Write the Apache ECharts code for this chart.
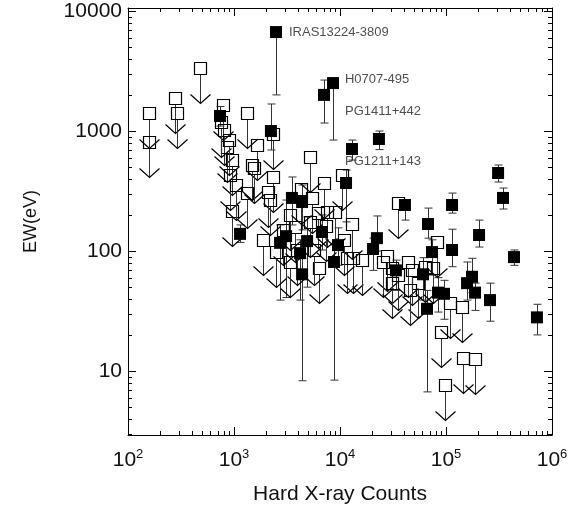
<!DOCTYPE html>
<html><head><meta charset="utf-8">
<script src="https://cdn.jsdelivr.net/npm/echarts@6/dist/echarts.min.js"></script>
<style>html,body{margin:0;padding:0;background:#fff}#c{width:575px;height:508px}</style>
</head><body><div id="c"></div>
<script>
// Detections (filled squares) with error bars
const detX  = [2490,8590,7060,738,2230,23300,12970,11400,3520,4390,41000,114000,310000,345000,67600,205000,6760,1140,3100,2720,4890,9570,22300,20500,4200,73800,114000,438000,8770,33700,60700,176000,158000,4390,188000,84100,95700,260000,66200,721000];
const detY  = [6680,2510,2000,1334,1000,858,708,369,277,256,242,242,447,277,168,136,144,139,133,117,121,112,128,104,96,98,102,89,81,69,64,61,54,64,45,45,44,39,33,28];
const detLo = [2000,841,1166,1100,695,700,573,175,165,150,181,207,376,224,128,108,102,118,41,39,50,76,100,69,39,63,74,76,8.4,47,39,45,39,8.3,32,31,27,26,6.7,20];
const detHi = [6680,2770,2660,1600,1680,1000,841,473,414,355,266,304,521,335,228,181,200,165,266,165,192,156,196,128,124,124,152,102,112,84,88,87,81,87,54,60,57,54,47,36];
// Upper limits (open squares with arrows)
const limX = [158,158,277,290,477,787,805,859,957,1327,1650,1479,1545,2335,2335,2095,5210,7060,10400,957,1327,4290,5450,12970,3370,3760,6190,7530,8970,6340,13300,16100,35200,82200,27700,43800,54500,109000,142000,89700,145000,188000,98000,2190,2900,3930,5210,7380,11600,25500,31000,35200,47800,63400,75400,754,898,1880,2490,3370,5690,10900,916,1045,31000,45700];
const limY = [1413,810,1884,1413,3350,1648,1019,736,573,1413,764,521,492,944,414,310,607,369,430,215,304,329,277,168,200,158,207,211,211,72,87,84,251,119,91,81,54,37,34,21,12.8,12.6,7.6,266,150,102,175,162,87,81,72,63,69,74,72,1189,841,124,98,81,102,124,430,355,54,47];
// Source labels
const srcNames = ['IRAS13224-3809','H0707-495','PG1411+442','PG1211+143'];
const srcLabX  = [3300,11140,11140,11140];
const srcLabY  = [6680,2710,1468,562];
// Axes
const xMajor = [100,1000,10000,100000,1000000];
const yMajor = [10,100,1000,10000];
const minorMult = [2,3,4,5,6,7,8,9];
const xMin = 100, xMax = 1000000, yMin = 2.93, yMax = 10600;

const xMinor = [], yMinor = [];
xMajor.slice(0,-1).forEach(d => minorMult.forEach(m => xMinor.push(d*m)));
[1].concat(yMajor).forEach(d => minorMult.forEach(m => { const v=d*m; if (v>yMin && v<yMax) yMinor.push(v); }));

const FONT = "'Liberation Sans', Arial, Helvetica, sans-serif";
const chart = echarts.init(document.getElementById('c'), null, {renderer:'canvas'});

const axisCommon = {
  type:'log', logBase:10,
  axisLine:{show:true, lineStyle:{color:'#000', width:1}},
  axisTick:{show:true, inside:true, length:8, lineStyle:{color:'#000', width:1}},
  splitLine:{show:false}, minorTick:{show:false}
};

chart.setOption({
  animation:false,
  backgroundColor:'#fff',
  grid:{left:128, right:23, top:8, bottom:73, containLabel:false, outerBoundsMode:'none'},
  xAxis:[
    Object.assign({}, axisCommon, {
      position:'bottom', min:xMin, max:xMax,
      name:'Hard X-ray Counts', nameLocation:'middle', nameGap:49,
      nameTextStyle:{fontFamily:FONT, fontSize:21, color:'#111'},
      axisLabel:{show:true, margin:13, color:'#000', fontFamily:FONT,
        formatter: v => '{a|10}{b|' + Math.round(Math.log10(v)) + '}',
        rich:{a:{fontSize:21, fontFamily:FONT, color:'#111', lineHeight:24},
              b:{fontSize:13, fontFamily:FONT, color:'#111', verticalAlign:'top', lineHeight:24, padding:[0,0,11,0]}}}
    }),
    Object.assign({}, axisCommon, {position:'top', min:xMin, max:xMax, axisLabel:{show:false}})
  ],
  yAxis:[
    Object.assign({}, axisCommon, {
      position:'left', min:yMin, max:yMax,
      name:'EW(eV)', nameLocation:'middle', nameGap:88, nameRotate:90,
      nameTextStyle:{fontFamily:FONT, fontSize:18, color:'#111'},
      axisLabel:{show:true, margin:6, color:'#111', fontFamily:FONT, fontSize:21,
        showMinLabel:false, showMaxLabel:false,
        formatter: v => { const r = Math.round(v); return yMajor.indexOf(r) >= 0 ? String(r) : ''; }}
    }),
    Object.assign({}, axisCommon, {position:'right', min:yMin, max:yMax, axisLabel:{show:false}})
  ],
  series:[
    { // minor ticks
      type:'custom', coordinateSystem:'cartesian2d', silent:true, clip:false,
      data: xMinor.map(v => [v, 'x']).concat(yMinor.map(v => [v, 'y'])),
      dimensions:['v','k'],
      renderItem(params, api){
        const cs = params.coordSys;
        const kind = params.dataIndex < xMinor.length ? 'x' : 'y';
        const v = api.value(0);
        const st = {stroke:'#000', lineWidth:1};
        if (kind === 'x') {
          const px = Math.round(api.coord([v, 100])[0]) + 0.5;
          return {type:'group', children:[
            {type:'line', shape:{x1:px,y1:cs.y+cs.height,x2:px,y2:cs.y+cs.height-4}, style:st},
            {type:'line', shape:{x1:px,y1:cs.y,x2:px,y2:cs.y+4}, style:st}
          ]};
        } else {
          const py = Math.round(api.coord([1000, v])[1]) + 0.5;
          return {type:'group', children:[
            {type:'line', shape:{x1:cs.x,y1:py,x2:cs.x+4,y2:py}, style:st},
            {type:'line', shape:{x1:cs.x+cs.width,y1:py,x2:cs.x+cs.width-4,y2:py}, style:st}
          ]};
        }
      }
    },
    { // error bars of detections
      type:'custom', silent:true,
      data: detX.map((x,i) => [x, detLo[i], detHi[i]]),
      renderItem(params, api){
        const x = api.value(0);
        const lo = api.coord([x, api.value(1)]);
        const hi = api.coord([x, api.value(2)]);
        const px = Math.round(lo[0]) + 0.5;
        const st = {stroke:'#333', lineWidth:1};
        return {type:'group', children:[
          {type:'line', shape:{x1:px,y1:lo[1],x2:px,y2:hi[1]}, style:st},
          {type:'line', shape:{x1:px-4,y1:lo[1],x2:px+4,y2:lo[1]}, style:st},
          {type:'line', shape:{x1:px-4,y1:hi[1],x2:px+4,y2:hi[1]}, style:st}
        ]};
      }
    },
    { // upper limits
      type:'custom', silent:true,
      data: limX.map((x,i) => [x, limY[i]]),
      renderItem(params, api){
        const p = api.coord([api.value(0), api.value(1)]);
        const h = 6, L = 35;
        const px = Math.round(p[0]) + 0.5, py = Math.round(p[1]) + 0.5;
        return {type:'group', children:[
          {type:'line', shape:{x1:px,y1:py+h,x2:px,y2:py+L}, style:{stroke:'#333', lineWidth:1}},
          {type:'polyline', shape:{points:[[px-10,py+L-9],[px,py+L],[px+10,py+L-9]]}, style:{stroke:'#000', fill:null, lineWidth:1.2}},
          {type:'rect', shape:{x:px-h,y:py-h,width:2*h,height:2*h}, style:{stroke:'#000', fill:null, lineWidth:1.2}}
        ]};
      }
    },
    { // detections
      type:'scatter', symbol:'rect', symbolSize:12, silent:true,
      itemStyle:{color:'#000', opacity:1},
      data: detX.map((x,i) => [x, detY[i]])
    },
    { // labels
      type:'scatter', symbolSize:0, silent:true,
      data: srcNames.map((n,i) => ({name:n, value:[srcLabX[i], srcLabY[i]]})),
      label:{show:true, position:'right', distance:0, formatter:'{b}', color:'#222', fontFamily:FONT, fontSize:13}
    }
  ]
});
</script>
</body></html>
